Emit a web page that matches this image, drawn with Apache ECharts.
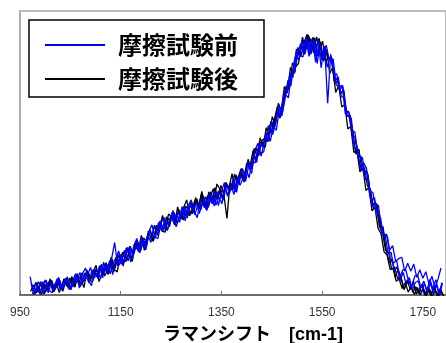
<!DOCTYPE html>
<html>
<head>
<meta charset="utf-8">
<script src="https://cdn.jsdelivr.net/npm/echarts@6/dist/echarts.min.js"></script>
<style>
  html, body { margin: 0; padding: 0; background: #fff; }
  #chart { width: 446px; height: 343px; }
</style>
</head>
<body>
<div id="chart"></div>
<script>
// Raman spectra, intensity in arbitrary units, sampled every 6 cm-1
const shiftStep = 6;

// before the friction test (blue), three measurements
const beforeAStart = 970;
const beforeA = [6.5,1.3,4.4,0.8,2.9,5.3,0.8,4.1,2.8,5.8,
1.9,4.7,5.8,1.9,4.7,7.4,4.2,3.7,7.7,7.0,
9.7,5.8,7.1,10.2,6.0,10.5,8.9,12.8,18.5,10.2,
14.3,11.2,14.7,17.2,13.9,17.1,15.2,20.4,18.3,21.0,
18.5,23.9,22.5,26.1,22.5,25.8,24.3,29.1,24.9,28.8,
27.9,31.1,27.1,31.5,29.5,32.7,28.7,32.2,34.6,30.9,
34.3,31.3,36.3,35.2,33.4,38.9,35.8,39.6,36.3,42.0,
41.3,40.3,46.8,44.6,48.9,46.7,53.4,52.2,56.6,54.1,
61.1,59.0,64.2,63.0,71.2,71.0,78.0,76.5,84.9,82.7,
89.8,85.0,89.5,84.8,89.8,81.5,88.2,84.0,88.0,83.0,
82.5,75.5,76.8,69.9,69.4,63.0,62.8,54.0,53.2,48.6,
48.4,40.6,40.5,33.2,34.3,28.0,27.2,20.5,21.4,15.8,
17.4,11.9,12.8,13.3,8.4,11.2,8.4,10.9,6.2,8.9,
5.9,8.2,3.9,6.6,2.6,5.5,9.5];

const beforeBStart = 973;
const beforeB = [3.9,0.9,1.9,4.8,0.4,3.6,5.0,1.4,2.5,6.2,
1.7,4.3,5.7,1.8,5.7,4.7,7.9,4.4,6.9,4.2,
8.8,7.6,5.8,10.4,7.7,10.7,7.5,11.2,13.4,10.5,
13.0,15.8,12.0,15.9,15.0,19.3,15.9,19.0,17.0,22.0,
21.3,20.0,25.5,22.7,25.8,22.8,27.9,26.0,28.7,25.6,
31.0,27.7,30.0,32.3,28.3,31.6,30.0,33.7,29.7,33.4,
35.1,31.7,34.6,32.1,37.8,35.2,38.6,35.4,41.3,38.6,
41.2,44.4,41.3,47.3,46.5,51.6,48.9,53.9,57.1,54.1,
59.1,58.0,65.3,64.1,70.6,69.4,78.3,78.1,84.3,88.5,
85.1,90.9,84.5,90.3,82.0,88.0,82.8,87.6,67.5,84.8,
77.7,77.9,72.1,73.7,65.0,64.5,57.9,57.4,49.0,48.9,
42.6,43.5,36.7,36.0,29.3,29.7,21.9,21.3,14.6,15.0,
8.7,10.0,5.0,8.0,3.6,6.2,1.7,4.4,5.0,0.7,
4.2,0.6,4.3,0.5,3.5,-0.2,4.2];

const beforeCStart = 972;
const beforeC = [4.2,0.2,2.9,0.3,4.1,5.2,1.6,0.8,4.1,5.5,
1.8,4.1,6.4,1.9,3.9,7.5,2.4,7.5,9.5,5.2,
3.3,9.2,8.2,5.8,11.6,7.7,12.2,7.2,12.4,15.5,
10.8,13.0,16.8,11.6,17.4,19.9,14.8,19.3,15.9,22.4,
24.7,20.3,19.9,25.2,27.4,22.7,26.1,29.8,24.0,27.0,
31.1,26.1,31.4,33.5,29.5,27.2,33.3,32.4,30.1,36.0,
32.1,36.6,31.5,36.5,39.6,34.8,37.2,41.2,36.1,41.9,
44.4,40.0,45.4,42.8,50.2,53.4,49.9,50.4,56.6,59.9,
56.5,61.6,67.0,63.1,68.7,75.6,73.6,81.8,86.4,84.3,
83.8,90.5,84.0,90.3,84.0,90.0,80.0,87.4,80.2,83.6,
83.0,74.0,73.1,73.8,63.8,64.6,62.1,51.7,51.4,44.1,
46.7,44.6,35.8,31.0,32.4,31.4,22.0,21.3,20.3,11.9,
11.3,12.2,6.0,8.8,8.9,4.8,2.7,6.7,6.9,2.6,
4.9,1.6,5.5,2.2,5.4,0.5,4.4];

// after the friction test (black), three measurements
const afterAStart = 971;
const afterA = [1.2,3.5,0.8,2.9,4.6,1.4,3.2,5.1,2.0,4.4,
1.9,5.7,3.1,6.0,2.9,6.4,4.2,7.8,5.0,8.3,
5.6,9.1,6.4,10.2,7.0,11.4,8.3,12.6,9.5,14.1,
11.0,15.6,12.3,17.2,14.1,19.0,15.9,20.3,17.6,22.5,
19.4,24.6,21.0,25.9,22.8,27.6,24.1,28.9,25.3,30.2,
26.7,31.4,27.8,32.7,29.0,33.9,30.2,35.1,31.0,36.3,
32.4,37.8,33.9,38.6,35.2,27.0,39.4,37.1,42.3,39.0,
44.6,41.5,47.8,44.2,51.6,48.9,55.4,52.0,58.9,56.3,
62.8,60.1,67.5,65.0,73.4,71.2,80.1,78.4,86.6,84.0,
90.8,86.2,91.3,86.0,90.5,84.1,89.2,82.3,86.4,78.0,
80.2,71.3,73.8,66.2,67.1,58.5,59.3,50.2,51.0,43.4,
44.6,36.8,37.9,29.6,30.9,23.5,21.6,15.2,14.1,9.0,
9.3,4.9,5.6,2.3,4.4,1.0,3.1,0.2,2.6,0.0,
2.4,-0.3,1.9,-0.5,1.6,-0.4,1.0];

const afterBStart = 974;
const afterB = [2.5,0.3,4.6,3.2,0.4,2.2,5.7,1.8,4.2,0.9,
3.9,5.8,2.4,5.6,3.7,7.5,3.0,6.4,8.0,5.4,
4.6,8.7,7.8,10.8,6.7,8.6,11.6,8.1,12.5,12.4,
15.1,11.7,14.6,12.8,18.3,16.9,15.7,20.0,18.6,23.0,
18.9,22.9,25.0,22.5,22.1,26.9,26.3,29.1,25.3,28.6,
26.4,31.2,29.9,28.6,33.1,31.0,35.3,30.8,34.8,34.6,
37.4,33.7,37.0,34.1,39.2,38.3,36.9,42.6,39.5,43.1,
40.2,46.3,46.2,45.8,51.9,48.9,54.2,55.3,54.0,61.1,
58.9,64.5,62.3,68.0,73.2,72.4,79.0,78.5,87.2,84.0,
88.9,91.7,86.4,90.8,87.1,90.4,83.2,86.7,83.1,84.0,
75.5,76.2,70.7,72.1,63.6,62.6,56.0,55.4,48.3,44.2,
44.9,38.4,37.2,30.5,31.1,24.0,21.9,15.7,15.0,9.1,
9.9,5.7,6.8,2.2,4.0,4.8,0.9,2.9,0.5,3.7,
0.4,2.2,-0.4,2.7,0.0,2.1,-0.3];

const afterCStart = 975;
const afterC = [0.2,4.4,2.8,0.2,3.9,1.8,5.2,1.1,3.3,5.2,
1.3,4.8,3.5,6.5,2.7,6.6,5.8,2.6,8.8,4.8,
7.8,10.5,4.7,7.8,11.0,7.2,13.3,9.1,8.1,13.7,
10.2,16.6,14.8,11.8,17.7,15.7,21.0,15.7,19.5,22.7,
19.0,24.5,23.5,28.0,23.5,28.5,27.5,24.6,31.0,27.4,
30.7,33.5,27.9,31.0,34.3,30.4,36.5,32.1,30.9,36.4,
32.7,39.1,37.3,34.1,39.7,37.4,42.7,37.4,41.2,44.5,
39.7,45.8,45.6,50.9,47.5,53.6,53.8,52.0,59.6,57.1,
61.7,66.3,62.5,67.6,73.6,72.7,81.7,80.3,81.5,88.2,
84.7,91.7,89.8,85.3,90.9,85.9,89.4,82.3,83.7,83.2,
74.4,75.5,71.1,72.2,63.0,63.3,57.7,49.6,51.4,44.1,
43.7,42.5,32.8,31.9,31.6,24.2,24.0,16.1,11.2,12.7,
6.3,9.1,5.8,1.8,5.4,1.9,4.9,0.3,2.2,3.6,
-0.6,2.7,0.6,3.1,-0.9,2.3,-0.3];

const xTicks = [950, 1150, 1350, 1550, 1750];
const seriesNames = ['摩擦試験前', '摩擦試験後'];
const axisTitle = 'ラマンシフト　[cm-1]';

function toPairs(start, values) {
  return values.map((v, i) => [start + i * shiftStep, v]);
}

function spectrum(name, color, start, values) {
  return {
    name: name,
    type: 'line',
    symbol: 'none',
    clip: true,
    data: toPairs(start, values),
    lineStyle: { color: color, width: 1.3 },
    itemStyle: { color: color }
  };
}

const chart = echarts.init(document.getElementById('chart'), null, { renderer: 'canvas' });
chart.setOption({
  animation: false,
  backgroundColor: '#fff',
  grid: {
    left: 20, right: 0, top: 11, bottom: 48,
    show: true, borderColor: '#a8a8a8', borderWidth: 1.5
  },
  legend: {
    data: seriesNames,
    orient: 'vertical',
    left: 29, top: 20,
    padding: [13, 26, 6, 15],
    itemWidth: 60, itemHeight: 24, itemGap: 10,
    borderColor: '#000', borderWidth: 1.5,
    backgroundColor: '#fff',
    lineStyle: { width: 2 },
    itemStyle: { opacity: 0 },
    textStyle: {
      fontFamily: '"Noto Sans CJK JP", sans-serif',
      fontWeight: 'bold', fontSize: 24, color: '#000',
      padding: [0, 0, 0, 8]
    }
  },
  xAxis: {
    type: 'value',
    min: 950, max: 1796,
    axisLine: { lineStyle: { color: '#6e6e6e', width: 2 } },
    axisTick: { show: true, inside: true, length: 4, customValues: xTicks, lineStyle: { color: '#6e6e6e' } },
    axisLabel: {
      customValues: xTicks, margin: 12,
      formatter: (v) => String(v),
      fontFamily: '"Liberation Sans", Arial, sans-serif',
      fontSize: 12, color: '#333'
    },
    splitLine: { show: false }
  },
  yAxis: {
    type: 'value', min: 0, max: 100,
    axisLine: { show: true, lineStyle: { color: '#a8a8a8', width: 1.5 } },
    axisTick: { show: false },
    axisLabel: { show: false },
    splitLine: { show: false }
  },
  graphic: [{
    type: 'text',
    left: 163, top: 326,
    style: {
      text: axisTitle,
      font: 'bold 18px "Liberation Sans", "Noto Sans CJK JP", sans-serif',
      fill: '#000'
    }
  }],
  series: [
    spectrum(seriesNames[1], '#000000', afterAStart, afterA),
    spectrum(seriesNames[1], '#000000', afterBStart, afterB),
    spectrum(seriesNames[1], '#000000', afterCStart, afterC),
    spectrum(seriesNames[0], '#0000ff', beforeAStart, beforeA),
    spectrum(seriesNames[0], '#0000ff', beforeBStart, beforeB),
    spectrum(seriesNames[0], '#0000ff', beforeCStart, beforeC)
  ]
});
</script>
</body>
</html>
